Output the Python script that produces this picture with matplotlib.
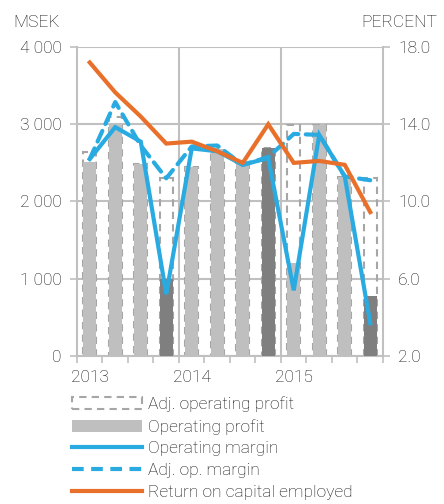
import matplotlib
matplotlib.use("Agg")
import matplotlib.pyplot as plt
import numpy as np
from matplotlib.patches import Patch
from matplotlib.lines import Line2D
from matplotlib.ticker import FuncFormatter

# quarterly data, 2013 Q1 .. 2015 Q4
quarters = ["Q1 2013", "Q2 2013", "Q3 2013", "Q4 2013",
            "Q1 2014", "Q2 2014", "Q3 2014", "Q4 2014",
            "Q1 2015", "Q2 2015", "Q3 2015", "Q4 2015"]
op_profit = [2510, 3000, 2490, 1000, 2450, 2680, 2500, 2690, 1200, 2990, 2320, 775]
adj_op_profit = [2645, 3100, 2490, 2300, 2450, 2680, 2500, 2690, 2990, 2990, 2320, 2300]
q4_dark = [False, False, False, True, False, False, False, True, False, False, False, True]
op_margin = [12.2, 13.85, 13.1, 5.2, 12.75, 12.6, 11.9, 12.25, 5.4, 13.45, 11.3, 3.7]
adj_op_margin = [12.2, 15.15, 12.9, 11.2, 12.85, 12.9, 11.9, 12.3, 13.5, 13.45, 11.3, 11.1]
roce = [17.2, 15.65, 14.4, 13.0, 13.1, 12.6, 12.0, 14.0, 12.0, 12.1, 11.9, 9.45]
year_labels = ["2013", "2014", "2015"]

LIGHT = "#bfbfbf"
DARK = "#7f7f7f"
BLUE = "#29abe2"
ORANGE = "#e8702a"
GRID = "#c0c0c0"
TXT = "#111111"

plt.rcParams["font.family"] = ["Roboto", "DejaVu Sans"]
plt.rcParams["font.weight"] = "light"
plt.rcParams["font.size"] = 12.5

fig = plt.figure(figsize=(4.44, 5.04), dpi=100)
ax = fig.add_axes([0.1734, 0.2937, 0.6892, 0.613])
x = np.arange(len(quarters))

ax.bar(x, adj_op_profit, width=0.5, facecolor="none", edgecolor="#a6a6a6",
       linewidth=1.5, linestyle=(0, (3.5, 2.5)), zorder=2)
ax.bar(x, op_profit, width=0.5, color=[DARK if d else LIGHT for d in q4_dark],
       zorder=3)

ax.set_xlim(-0.5, 11.5)
ax.set_ylim(0, 4000)
ax.set_yticks([0, 1000, 2000, 3000, 4000])
ax.yaxis.set_major_formatter(FuncFormatter(lambda v, p: f"{int(v):,}".replace(",", " ")))
ax.set_xticks([0, 4, 8])
ax.set_xticklabels(year_labels)
ax.set_xticks(np.arange(-0.5, 12, 1), minor=True)
ax.tick_params(axis="x", which="major", length=0, pad=10, colors=TXT)
ax.tick_params(axis="x", which="minor", length=5, width=1.2, color=GRID)
ax.tick_params(axis="y", length=5, width=1.2, color=GRID, labelcolor=TXT, pad=6)
ax.grid(axis="y", color=GRID, linewidth=1.5)
ax.set_axisbelow(True)
for xv in [3.5, 7.5]:
    ax.axvline(xv, color=GRID, linewidth=1.5, zorder=1)
for s in ["left", "right", "bottom"]:
    ax.spines[s].set_color(GRID)
    ax.spines[s].set_linewidth(1.5)
ax.spines["top"].set_visible(False)

ax2 = ax.twinx()
ax2.set_ylim(2, 18)
ax2.set_yticks([2, 6, 10, 14, 18])
ax2.yaxis.set_major_formatter(FuncFormatter(lambda v, p: f"{v:.1f}"))
ax2.tick_params(axis="y", length=5, width=1.2, color=GRID, labelcolor=TXT, pad=6)
for s in ax2.spines.values():
    s.set_visible(False)

lw = 3.0
ax2.plot(x, op_margin, color=BLUE, linewidth=lw, solid_joinstyle="miter")
ax2.plot(x, adj_op_margin, color=BLUE, linewidth=lw, linestyle=(0, (2.8, 1.8)),
         dash_capstyle="round")
ax2.plot(x, roce, color=ORANGE, linewidth=lw, solid_joinstyle="miter")

fig.text(0.03, 0.955, "MSEK", ha="left", va="center", color=TXT)
fig.text(0.985, 0.955, "PERCENT", ha="right", va="center", color=TXT)

handles = [
    Patch(facecolor="none", edgecolor="#a6a6a6", linewidth=1.5, linestyle=(0, (3.5, 2.5))),
    Patch(facecolor=LIGHT, edgecolor="none"),
    Line2D([], [], color=BLUE, linewidth=lw),
    Line2D([], [], color=BLUE, linewidth=lw, linestyle=(0, (2.8, 1.8))),
    Line2D([], [], color=ORANGE, linewidth=lw),
]
labels = ["Adj. operating profit", "Operating profit", "Operating margin",
          "Adj. op. margin", "Return on capital employed"]
fig.legend(handles, labels, loc="upper left", bbox_to_anchor=(0.163, 0.213),
           frameon=False, handlelength=4.0, handleheight=0.7, handletextpad=0.35,
           labelspacing=0.38, borderaxespad=0, borderpad=0, labelcolor=TXT)

fig.savefig("out.png", dpi=100)
